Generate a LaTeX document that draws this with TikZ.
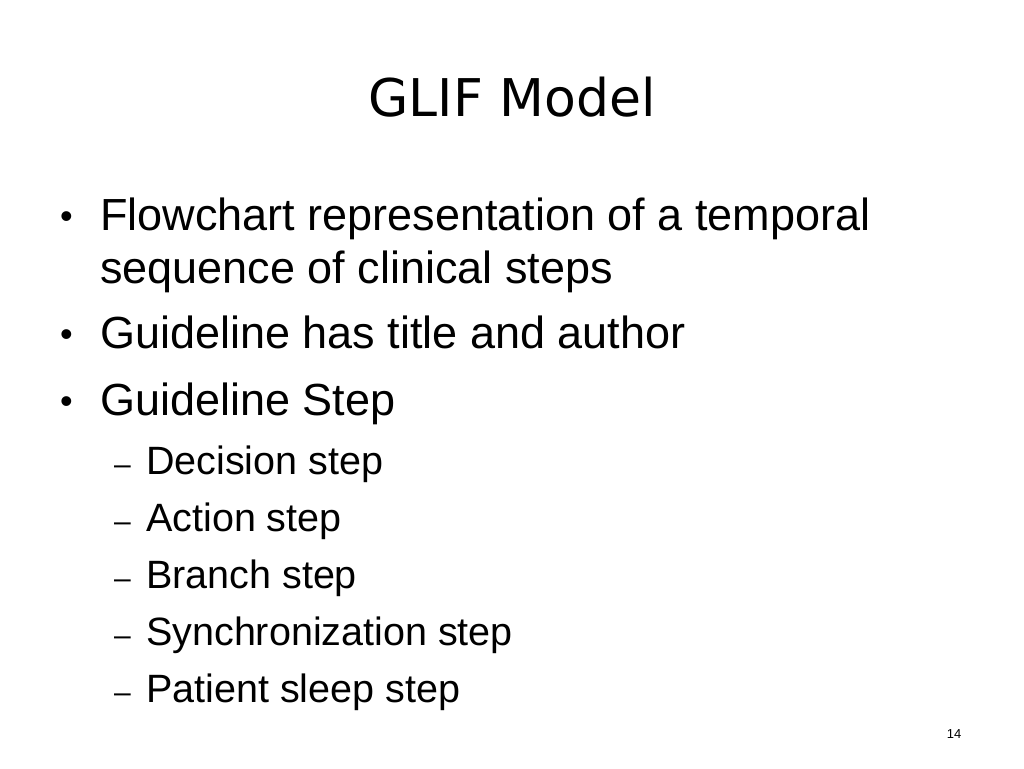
\documentclass[tikz,border=0pt]{standalone}
\usepackage{fontspec}
\setmainfont{Liberation Sans}
\newfontfamily\titlefont{DejaVu Sans}
\begin{document}
\begin{tikzpicture}[x=1pt,y=-1pt,
  big/.style={anchor=base west,inner sep=0pt,font=\fontsize{45}{54}\selectfont},
  small/.style={anchor=base west,inner sep=0pt,font=\fontsize{39.5}{46}\selectfont},
  bul/.style={anchor=base west,inner sep=0pt,font=\fontsize{36}{40}\selectfont}]
\useasboundingbox (0,0) rectangle (1024,768);
\node[inner sep=0pt,anchor=base,font=\titlefont\fontsize{52}{60}\selectfont] (title) at (512,116) {GLIF Model};
\node[bul] (b1) at (60,228) {•};
\node[big] (t1) at (100,230) {Flowchart representation of a temporal};
\node[big] (t1b) at (100,283) {sequence of clinical steps};
\node[bul] (b2) at (60,346) {•};
\node[big] (t2) at (100,348) {Guideline has title and author};
\node[bul] (b3) at (60,413) {•};
\node[big] (t3) at (100,415) {Guideline Step};
\foreach \y/\t/\n in {474/Decision step/s1,531/Action step/s2,588/Branch step/s3,645/Synchronization step/s4,702/Patient sleep step/s5}{
  \node[anchor=base west,inner sep=0pt,font=\fontsize{30}{34}\selectfont] (d\n) at (114,\y) {–};
  \node[small] (\n) at (146,\y) {\t};
}
\node[anchor=base,inner sep=0pt,font=\fontsize{13}{15}\selectfont] (pg) at (954,738) {14};
\end{tikzpicture}
\end{document}
